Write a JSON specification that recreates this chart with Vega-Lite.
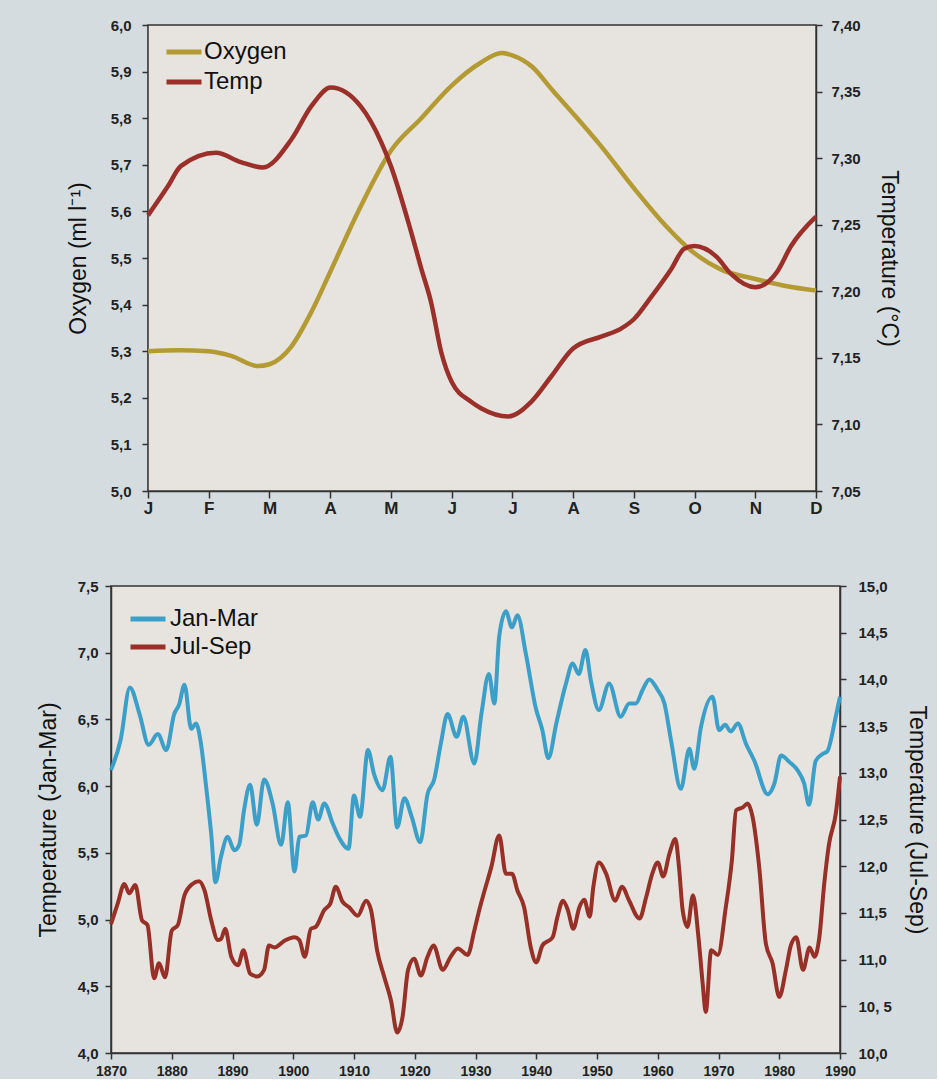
{
  "$schema": "https://vega.github.io/schema/vega-lite/v6.json",
  "background": "#d4dcdf",
  "padding": {"left": 36, "top": 18, "right": 8, "bottom": 0},
  "spacing": 62,
  "resolve": {"scale": {"color": "independent"}, "legend": {"color": "independent"}},
  "config": {
    "axis": {"domainColor": "#333", "tickColor": "#333", "domainWidth": 1.5, "tickWidth": 1.5, "tickSize": 6, "grid": false, "labelFlush": false,
      "labelFont": "Liberation Sans, Arial, sans-serif", "labelFontWeight": "bold", "labelColor": "#222",
      "titleFont": "Liberation Sans, Arial, sans-serif", "titleFontWeight": "normal", "titleFontSize": 23, "titleColor": "#111"},
    "legend": {"orient": "none", "labelFont": "Liberation Sans, Arial, sans-serif", "labelFontSize": 24, "labelColor": "#111",
      "symbolType": "stroke", "symbolSize": 1225, "symbolStrokeWidth": 5, "labelOffset": 2, "padding": 0, "title": null, "clipHeight": 28}
  },
  "datasets": {
    "top": [
      {"s": "Oxygen", "m": 0, "v": 5.30}, {"s": "Oxygen", "m": 0.5, "v": 5.302}, {"s": "Oxygen", "m": 1, "v": 5.30},
      {"s": "Oxygen", "m": 1.37, "v": 5.29}, {"s": "Oxygen", "m": 1.81, "v": 5.268}, {"s": "Oxygen", "m": 2, "v": 5.272},
      {"s": "Oxygen", "m": 2.36, "v": 5.31}, {"s": "Oxygen", "m": 2.69, "v": 5.384}, {"s": "Oxygen", "m": 3, "v": 5.47},
      {"s": "Oxygen", "m": 3.5, "v": 5.61}, {"s": "Oxygen", "m": 4, "v": 5.73}, {"s": "Oxygen", "m": 4.5, "v": 5.80},
      {"s": "Oxygen", "m": 5, "v": 5.87}, {"s": "Oxygen", "m": 5.49, "v": 5.92}, {"s": "Oxygen", "m": 5.82, "v": 5.94},
      {"s": "Oxygen", "m": 6, "v": 5.935}, {"s": "Oxygen", "m": 6.33, "v": 5.91}, {"s": "Oxygen", "m": 6.66, "v": 5.86},
      {"s": "Oxygen", "m": 7, "v": 5.81}, {"s": "Oxygen", "m": 7.46, "v": 5.74}, {"s": "Oxygen", "m": 8, "v": 5.65},
      {"s": "Oxygen", "m": 8.45, "v": 5.58}, {"s": "Oxygen", "m": 9, "v": 5.51}, {"s": "Oxygen", "m": 9.44, "v": 5.475},
      {"s": "Oxygen", "m": 10, "v": 5.455}, {"s": "Oxygen", "m": 10.5, "v": 5.44}, {"s": "Oxygen", "m": 11, "v": 5.43},
      {"s": "Temp", "m": 0, "v": 7.257}, {"s": "Temp", "m": 0.33, "v": 7.279}, {"s": "Temp", "m": 0.54, "v": 7.294},
      {"s": "Temp", "m": 1.12, "v": 7.304}, {"s": "Temp", "m": 1.53, "v": 7.297}, {"s": "Temp", "m": 1.89, "v": 7.293},
      {"s": "Temp", "m": 2.36, "v": 7.314}, {"s": "Temp", "m": 2.69, "v": 7.339}, {"s": "Temp", "m": 3.01, "v": 7.353},
      {"s": "Temp", "m": 3.5, "v": 7.339}, {"s": "Temp", "m": 3.84, "v": 7.312}, {"s": "Temp", "m": 4, "v": 7.294},
      {"s": "Temp", "m": 4.33, "v": 7.245}, {"s": "Temp", "m": 4.5, "v": 7.217}, {"s": "Temp", "m": 4.66, "v": 7.192},
      {"s": "Temp", "m": 4.83, "v": 7.154}, {"s": "Temp", "m": 5, "v": 7.132}, {"s": "Temp", "m": 5.32, "v": 7.117},
      {"s": "Temp", "m": 5.49, "v": 7.112}, {"s": "Temp", "m": 5.93, "v": 7.106}, {"s": "Temp", "m": 6.31, "v": 7.117},
      {"s": "Temp", "m": 6.64, "v": 7.136}, {"s": "Temp", "m": 7, "v": 7.157}, {"s": "Temp", "m": 7.46, "v": 7.166},
      {"s": "Temp", "m": 7.79, "v": 7.172}, {"s": "Temp", "m": 8, "v": 7.179}, {"s": "Temp", "m": 8.29, "v": 7.196},
      {"s": "Temp", "m": 8.62, "v": 7.217}, {"s": "Temp", "m": 8.83, "v": 7.232}, {"s": "Temp", "m": 9, "v": 7.234},
      {"s": "Temp", "m": 9.36, "v": 7.226}, {"s": "Temp", "m": 9.6, "v": 7.213}, {"s": "Temp", "m": 10, "v": 7.203},
      {"s": "Temp", "m": 10.35, "v": 7.214}, {"s": "Temp", "m": 10.59, "v": 7.234}, {"s": "Temp", "m": 11, "v": 7.256}
    ],
    "bottom": [
      {"s": "Jan-Mar", "year": 1870.0, "v": 6.12}, {"s": "Jan-Mar", "year": 1871.6, "v": 6.35}, {"s": "Jan-Mar", "year": 1873.1, "v": 6.74},
      {"s": "Jan-Mar", "year": 1874.7, "v": 6.54}, {"s": "Jan-Mar", "year": 1876.2, "v": 6.31}, {"s": "Jan-Mar", "year": 1877.7, "v": 6.39},
      {"s": "Jan-Mar", "year": 1879.1, "v": 6.27}, {"s": "Jan-Mar", "year": 1880.4, "v": 6.54}, {"s": "Jan-Mar", "year": 1881.2, "v": 6.61},
      {"s": "Jan-Mar", "year": 1882.1, "v": 6.76}, {"s": "Jan-Mar", "year": 1883.2, "v": 6.43}, {"s": "Jan-Mar", "year": 1884.0, "v": 6.47},
      {"s": "Jan-Mar", "year": 1884.8, "v": 6.32}, {"s": "Jan-Mar", "year": 1885.6, "v": 6.02}, {"s": "Jan-Mar", "year": 1886.5, "v": 5.64},
      {"s": "Jan-Mar", "year": 1887.2, "v": 5.28}, {"s": "Jan-Mar", "year": 1888.1, "v": 5.47}, {"s": "Jan-Mar", "year": 1889.2, "v": 5.62},
      {"s": "Jan-Mar", "year": 1890.3, "v": 5.52}, {"s": "Jan-Mar", "year": 1891.1, "v": 5.56}, {"s": "Jan-Mar", "year": 1891.9, "v": 5.82},
      {"s": "Jan-Mar", "year": 1892.9, "v": 6.01}, {"s": "Jan-Mar", "year": 1894.0, "v": 5.71}, {"s": "Jan-Mar", "year": 1895.2, "v": 6.05},
      {"s": "Jan-Mar", "year": 1896.6, "v": 5.87}, {"s": "Jan-Mar", "year": 1898.0, "v": 5.56}, {"s": "Jan-Mar", "year": 1899.1, "v": 5.88},
      {"s": "Jan-Mar", "year": 1900.2, "v": 5.36}, {"s": "Jan-Mar", "year": 1901.0, "v": 5.62}, {"s": "Jan-Mar", "year": 1902.1, "v": 5.63},
      {"s": "Jan-Mar", "year": 1903.2, "v": 5.88}, {"s": "Jan-Mar", "year": 1904.1, "v": 5.75}, {"s": "Jan-Mar", "year": 1905.1, "v": 5.87},
      {"s": "Jan-Mar", "year": 1906.5, "v": 5.72}, {"s": "Jan-Mar", "year": 1907.6, "v": 5.61}, {"s": "Jan-Mar", "year": 1909.1, "v": 5.53},
      {"s": "Jan-Mar", "year": 1910.0, "v": 5.93}, {"s": "Jan-Mar", "year": 1911.0, "v": 5.77}, {"s": "Jan-Mar", "year": 1912.3, "v": 6.27},
      {"s": "Jan-Mar", "year": 1913.3, "v": 6.09}, {"s": "Jan-Mar", "year": 1914.7, "v": 5.97}, {"s": "Jan-Mar", "year": 1916.0, "v": 6.22},
      {"s": "Jan-Mar", "year": 1917.1, "v": 5.69}, {"s": "Jan-Mar", "year": 1918.3, "v": 5.91}, {"s": "Jan-Mar", "year": 1919.5, "v": 5.77},
      {"s": "Jan-Mar", "year": 1920.9, "v": 5.58}, {"s": "Jan-Mar", "year": 1922.1, "v": 5.94}, {"s": "Jan-Mar", "year": 1923.2, "v": 6.05},
      {"s": "Jan-Mar", "year": 1924.3, "v": 6.32}, {"s": "Jan-Mar", "year": 1925.4, "v": 6.54}, {"s": "Jan-Mar", "year": 1926.9, "v": 6.37},
      {"s": "Jan-Mar", "year": 1928.0, "v": 6.52}, {"s": "Jan-Mar", "year": 1929.8, "v": 6.17}, {"s": "Jan-Mar", "year": 1931.0, "v": 6.55},
      {"s": "Jan-Mar", "year": 1932.2, "v": 6.84}, {"s": "Jan-Mar", "year": 1933.1, "v": 6.62}, {"s": "Jan-Mar", "year": 1933.9, "v": 7.12},
      {"s": "Jan-Mar", "year": 1935.0, "v": 7.31}, {"s": "Jan-Mar", "year": 1936.0, "v": 7.19}, {"s": "Jan-Mar", "year": 1936.9, "v": 7.28},
      {"s": "Jan-Mar", "year": 1938.3, "v": 6.99}, {"s": "Jan-Mar", "year": 1939.9, "v": 6.59}, {"s": "Jan-Mar", "year": 1941.0, "v": 6.42},
      {"s": "Jan-Mar", "year": 1942.0, "v": 6.21}, {"s": "Jan-Mar", "year": 1943.3, "v": 6.47}, {"s": "Jan-Mar", "year": 1944.9, "v": 6.77},
      {"s": "Jan-Mar", "year": 1946.0, "v": 6.92}, {"s": "Jan-Mar", "year": 1947.0, "v": 6.84}, {"s": "Jan-Mar", "year": 1948.1, "v": 7.02},
      {"s": "Jan-Mar", "year": 1949.0, "v": 6.79}, {"s": "Jan-Mar", "year": 1950.3, "v": 6.57}, {"s": "Jan-Mar", "year": 1952.0, "v": 6.77},
      {"s": "Jan-Mar", "year": 1953.9, "v": 6.52}, {"s": "Jan-Mar", "year": 1955.3, "v": 6.62}, {"s": "Jan-Mar", "year": 1956.4, "v": 6.62},
      {"s": "Jan-Mar", "year": 1957.5, "v": 6.72}, {"s": "Jan-Mar", "year": 1958.6, "v": 6.80}, {"s": "Jan-Mar", "year": 1960.0, "v": 6.72},
      {"s": "Jan-Mar", "year": 1961.1, "v": 6.62}, {"s": "Jan-Mar", "year": 1962.2, "v": 6.34}, {"s": "Jan-Mar", "year": 1963.8, "v": 5.98},
      {"s": "Jan-Mar", "year": 1965.2, "v": 6.28}, {"s": "Jan-Mar", "year": 1966.0, "v": 6.13}, {"s": "Jan-Mar", "year": 1967.1, "v": 6.44},
      {"s": "Jan-Mar", "year": 1969.0, "v": 6.67}, {"s": "Jan-Mar", "year": 1970.1, "v": 6.42}, {"s": "Jan-Mar", "year": 1971.1, "v": 6.46},
      {"s": "Jan-Mar", "year": 1972.0, "v": 6.41}, {"s": "Jan-Mar", "year": 1973.2, "v": 6.47}, {"s": "Jan-Mar", "year": 1974.5, "v": 6.32},
      {"s": "Jan-Mar", "year": 1975.9, "v": 6.19}, {"s": "Jan-Mar", "year": 1978.1, "v": 5.94}, {"s": "Jan-Mar", "year": 1979.2, "v": 6.02},
      {"s": "Jan-Mar", "year": 1980.3, "v": 6.23}, {"s": "Jan-Mar", "year": 1981.7, "v": 6.18}, {"s": "Jan-Mar", "year": 1983.0, "v": 6.12},
      {"s": "Jan-Mar", "year": 1984.1, "v": 6.02}, {"s": "Jan-Mar", "year": 1984.9, "v": 5.86}, {"s": "Jan-Mar", "year": 1986.0, "v": 6.19},
      {"s": "Jan-Mar", "year": 1987.1, "v": 6.24}, {"s": "Jan-Mar", "year": 1987.9, "v": 6.26}, {"s": "Jan-Mar", "year": 1989.3, "v": 6.52},
      {"s": "Jan-Mar", "year": 1990.0, "v": 6.67},
      {"s": "Jul-Sep", "year": 1870.0, "v": 11.38}, {"s": "Jul-Sep", "year": 1871.1, "v": 11.60}, {"s": "Jul-Sep", "year": 1872.2, "v": 11.81},
      {"s": "Jul-Sep", "year": 1873.0, "v": 11.71}, {"s": "Jul-Sep", "year": 1874.0, "v": 11.80}, {"s": "Jul-Sep", "year": 1875.1, "v": 11.42},
      {"s": "Jul-Sep", "year": 1876.0, "v": 11.37}, {"s": "Jul-Sep", "year": 1877.1, "v": 10.80}, {"s": "Jul-Sep", "year": 1877.9, "v": 10.96},
      {"s": "Jul-Sep", "year": 1878.9, "v": 10.81}, {"s": "Jul-Sep", "year": 1880.0, "v": 11.31}, {"s": "Jul-Sep", "year": 1881.0, "v": 11.37},
      {"s": "Jul-Sep", "year": 1882.1, "v": 11.69}, {"s": "Jul-Sep", "year": 1883.4, "v": 11.81}, {"s": "Jul-Sep", "year": 1884.5, "v": 11.84},
      {"s": "Jul-Sep", "year": 1885.4, "v": 11.74}, {"s": "Jul-Sep", "year": 1886.5, "v": 11.42}, {"s": "Jul-Sep", "year": 1887.6, "v": 11.21},
      {"s": "Jul-Sep", "year": 1888.1, "v": 11.22}, {"s": "Jul-Sep", "year": 1888.8, "v": 11.33}, {"s": "Jul-Sep", "year": 1889.8, "v": 11.03},
      {"s": "Jul-Sep", "year": 1890.9, "v": 10.94}, {"s": "Jul-Sep", "year": 1891.8, "v": 11.10}, {"s": "Jul-Sep", "year": 1892.9, "v": 10.85},
      {"s": "Jul-Sep", "year": 1894.1, "v": 10.82}, {"s": "Jul-Sep", "year": 1895.2, "v": 10.89}, {"s": "Jul-Sep", "year": 1896.0, "v": 11.15},
      {"s": "Jul-Sep", "year": 1896.9, "v": 11.13}, {"s": "Jul-Sep", "year": 1898.5, "v": 11.20}, {"s": "Jul-Sep", "year": 1900.2, "v": 11.24},
      {"s": "Jul-Sep", "year": 1901.0, "v": 11.21}, {"s": "Jul-Sep", "year": 1901.9, "v": 11.03}, {"s": "Jul-Sep", "year": 1902.9, "v": 11.33},
      {"s": "Jul-Sep", "year": 1903.7, "v": 11.35}, {"s": "Jul-Sep", "year": 1905.1, "v": 11.53}, {"s": "Jul-Sep", "year": 1906.1, "v": 11.60},
      {"s": "Jul-Sep", "year": 1907.0, "v": 11.78}, {"s": "Jul-Sep", "year": 1908.1, "v": 11.62}, {"s": "Jul-Sep", "year": 1909.2, "v": 11.56},
      {"s": "Jul-Sep", "year": 1910.6, "v": 11.47}, {"s": "Jul-Sep", "year": 1912.0, "v": 11.63}, {"s": "Jul-Sep", "year": 1912.8, "v": 11.53},
      {"s": "Jul-Sep", "year": 1913.8, "v": 11.10}, {"s": "Jul-Sep", "year": 1915.0, "v": 10.81}, {"s": "Jul-Sep", "year": 1916.1, "v": 10.56},
      {"s": "Jul-Sep", "year": 1917.1, "v": 10.22}, {"s": "Jul-Sep", "year": 1918.0, "v": 10.39}, {"s": "Jul-Sep", "year": 1918.9, "v": 10.89},
      {"s": "Jul-Sep", "year": 1919.9, "v": 11.01}, {"s": "Jul-Sep", "year": 1921.0, "v": 10.83}, {"s": "Jul-Sep", "year": 1922.1, "v": 11.03},
      {"s": "Jul-Sep", "year": 1923.1, "v": 11.15}, {"s": "Jul-Sep", "year": 1924.6, "v": 10.89}, {"s": "Jul-Sep", "year": 1925.9, "v": 11.03},
      {"s": "Jul-Sep", "year": 1927.1, "v": 11.12}, {"s": "Jul-Sep", "year": 1928.7, "v": 11.05}, {"s": "Jul-Sep", "year": 1929.8, "v": 11.31},
      {"s": "Jul-Sep", "year": 1930.5, "v": 11.50}, {"s": "Jul-Sep", "year": 1931.5, "v": 11.74}, {"s": "Jul-Sep", "year": 1932.6, "v": 11.99},
      {"s": "Jul-Sep", "year": 1933.9, "v": 12.33}, {"s": "Jul-Sep", "year": 1935.0, "v": 11.92}, {"s": "Jul-Sep", "year": 1936.0, "v": 11.92},
      {"s": "Jul-Sep", "year": 1936.9, "v": 11.74}, {"s": "Jul-Sep", "year": 1938.0, "v": 11.56}, {"s": "Jul-Sep", "year": 1939.1, "v": 11.13},
      {"s": "Jul-Sep", "year": 1940.0, "v": 10.97}, {"s": "Jul-Sep", "year": 1941.0, "v": 11.15}, {"s": "Jul-Sep", "year": 1942.7, "v": 11.24},
      {"s": "Jul-Sep", "year": 1943.5, "v": 11.46}, {"s": "Jul-Sep", "year": 1944.4, "v": 11.63}, {"s": "Jul-Sep", "year": 1945.2, "v": 11.53},
      {"s": "Jul-Sep", "year": 1946.1, "v": 11.33}, {"s": "Jul-Sep", "year": 1947.1, "v": 11.56}, {"s": "Jul-Sep", "year": 1947.9, "v": 11.64},
      {"s": "Jul-Sep", "year": 1948.8, "v": 11.46}, {"s": "Jul-Sep", "year": 1949.4, "v": 11.78}, {"s": "Jul-Sep", "year": 1950.3, "v": 12.04},
      {"s": "Jul-Sep", "year": 1951.5, "v": 11.92}, {"s": "Jul-Sep", "year": 1953.0, "v": 11.63}, {"s": "Jul-Sep", "year": 1954.1, "v": 11.78},
      {"s": "Jul-Sep", "year": 1955.3, "v": 11.63}, {"s": "Jul-Sep", "year": 1957.0, "v": 11.44}, {"s": "Jul-Sep", "year": 1958.1, "v": 11.67},
      {"s": "Jul-Sep", "year": 1959.1, "v": 11.92}, {"s": "Jul-Sep", "year": 1960.0, "v": 12.04}, {"s": "Jul-Sep", "year": 1960.9, "v": 11.89},
      {"s": "Jul-Sep", "year": 1961.9, "v": 12.13}, {"s": "Jul-Sep", "year": 1962.9, "v": 12.29}, {"s": "Jul-Sep", "year": 1963.5, "v": 11.99},
      {"s": "Jul-Sep", "year": 1964.1, "v": 11.53}, {"s": "Jul-Sep", "year": 1964.9, "v": 11.35}, {"s": "Jul-Sep", "year": 1965.8, "v": 11.69},
      {"s": "Jul-Sep", "year": 1966.7, "v": 11.24}, {"s": "Jul-Sep", "year": 1967.4, "v": 10.74}, {"s": "Jul-Sep", "year": 1967.9, "v": 10.44},
      {"s": "Jul-Sep", "year": 1968.8, "v": 11.10}, {"s": "Jul-Sep", "year": 1969.9, "v": 11.05}, {"s": "Jul-Sep", "year": 1971.2, "v": 11.56},
      {"s": "Jul-Sep", "year": 1972.2, "v": 12.06}, {"s": "Jul-Sep", "year": 1972.9, "v": 12.60}, {"s": "Jul-Sep", "year": 1974.0, "v": 12.63},
      {"s": "Jul-Sep", "year": 1974.8, "v": 12.67}, {"s": "Jul-Sep", "year": 1975.6, "v": 12.53}, {"s": "Jul-Sep", "year": 1976.7, "v": 11.99},
      {"s": "Jul-Sep", "year": 1977.8, "v": 11.17}, {"s": "Jul-Sep", "year": 1978.9, "v": 10.96}, {"s": "Jul-Sep", "year": 1980.0, "v": 10.60},
      {"s": "Jul-Sep", "year": 1981.1, "v": 10.89}, {"s": "Jul-Sep", "year": 1981.9, "v": 11.15}, {"s": "Jul-Sep", "year": 1982.8, "v": 11.24},
      {"s": "Jul-Sep", "year": 1983.9, "v": 10.89}, {"s": "Jul-Sep", "year": 1985.0, "v": 11.13}, {"s": "Jul-Sep", "year": 1985.8, "v": 11.03},
      {"s": "Jul-Sep", "year": 1986.6, "v": 11.24}, {"s": "Jul-Sep", "year": 1987.4, "v": 11.81}, {"s": "Jul-Sep", "year": 1988.2, "v": 12.24},
      {"s": "Jul-Sep", "year": 1989.3, "v": 12.56}, {"s": "Jul-Sep", "year": 1990.0, "v": 12.96}
    ]
  },
  "vconcat": [
    {
      "width": 705,
      "height": 466,
      "view": {"stroke": null, "fill": null},
      "layer": [
        {
          "data": {"values": [{"box": 1}]},
          "mark": {"type": "rect", "fill": "#e7e4e0", "stroke": "#333", "strokeWidth": 1.5},
          "encoding": {
            "x": {"datum": 0, "type": "quantitative", "scale": {"domain": [0, 11], "range": [37, 705], "nice": false, "zero": false},
              "axis": {"values": [0,1,2,3,4,5,6,7,8,9,10,11], "labelExpr": "['J','F','M','A','M','J','J','A','S','O','N','D'][datum.value]", "title": null, "labelFontSize": 17, "labelPadding": 2, "tickSize": 7}},
            "x2": {"datum": 11},
            "y": {"datum": 0, "type": "quantitative", "scale": {"domain": [0, 1], "nice": false, "zero": false}, "axis": null},
            "y2": {"datum": 1}
          }
        },
        {
          "data": {"name": "top"},
          "transform": [{"filter": "datum.s == 'Oxygen'"}],
          "mark": {"type": "line", "interpolate": "monotone", "strokeWidth": 4.5},
          "encoding": {
            "x": {"field": "m", "type": "quantitative", "scale": {"domain": [0, 11], "range": [37, 705], "nice": false, "zero": false},
              "axis": {"values": [0,1,2,3,4,5,6,7,8,9,10,11], "labelExpr": "['J','F','M','A','M','J','J','A','S','O','N','D'][datum.value]", "title": null, "labelFontSize": 17, "labelPadding": 2, "tickSize": 7}},
            "y": {"field": "v", "type": "quantitative", "scale": {"domain": [5.0, 6.0], "nice": false, "zero": false},
              "axis": {"orient": "left", "offset": -37, "values": [5.0,5.1,5.2,5.3,5.4,5.5,5.6,5.7,5.8,5.9,6.0], "labelExpr": "replace(format(datum.value, '.1f'), '.', ',')", "labelFontSize": 15, "labelPadding": 11, "title": "Oxygen (ml l⁻¹)", "titlePadding": 20}},
            "color": {"field": "s", "type": "nominal", "scale": {"domain": ["Oxygen", "Temp"], "range": ["#b49a32", "#9b302a"]},
              "legend": {"legendX": 53, "legendY": 13, "rowPadding": 2, "labelOffset": 0}}
          }
        },
        {
          "data": {"name": "top"},
          "transform": [{"filter": "datum.s == 'Temp'"}],
          "mark": {"type": "line", "interpolate": "monotone", "strokeWidth": 4.5},
          "encoding": {
            "x": {"field": "m", "type": "quantitative", "scale": {"domain": [0, 11], "range": [37, 705], "nice": false, "zero": false},
              "axis": {"values": [0,1,2,3,4,5,6,7,8,9,10,11], "labelExpr": "['J','F','M','A','M','J','J','A','S','O','N','D'][datum.value]", "title": null, "labelFontSize": 17, "labelPadding": 2, "tickSize": 7}},
            "y": {"field": "v", "type": "quantitative", "scale": {"domain": [7.05, 7.40], "nice": false, "zero": false},
              "axis": {"orient": "right", "values": [7.05,7.10,7.15,7.20,7.25,7.30,7.35,7.40], "labelExpr": "replace(format(datum.value, '.2f'), '.', ',')", "labelFontSize": 15, "labelPadding": 9, "title": "Temperature (°C)", "titlePadding": 16}},
            "color": {"field": "s", "type": "nominal", "scale": {"domain": ["Oxygen", "Temp"], "range": ["#b49a32", "#9b302a"]},
              "legend": {"legendX": 53, "legendY": 13, "rowPadding": 2, "labelOffset": 0}}
          }
        }
      ],
      "resolve": {"scale": {"y": "independent"}, "axis": {"y": "independent"}}
    },
    {
      "width": 729,
      "height": 467,
      "view": {"fill": "#e7e4e0", "stroke": "#333", "strokeWidth": 1.5},
      "data": {"name": "bottom"},
      "layer": [
        {
          "transform": [{"filter": "datum.s == 'Jan-Mar'"}],
          "mark": {"type": "line", "interpolate": "monotone", "strokeWidth": 4},
          "encoding": {
            "x": {"field": "year", "type": "quantitative", "scale": {"domain": [1870, 1990], "nice": false, "zero": false},
              "axis": {"values": [1870,1880,1890,1900,1910,1920,1930,1940,1950,1960,1970,1980,1990], "labelExpr": "format(datum.value, 'd')", "title": null, "labelFontSize": 14, "labelPadding": 5}},
            "y": {"field": "v", "type": "quantitative", "scale": {"domain": [4.0, 7.5], "nice": false, "zero": false},
              "axis": {"orient": "left", "values": [4.0,4.5,5.0,5.5,6.0,6.5,7.0,7.5], "labelExpr": "replace(format(datum.value, '.1f'), '.', ',')", "labelFontSize": 15, "labelPadding": 7, "title": "Temperature (Jan-Mar)", "titlePadding": 17}},
            "color": {"field": "s", "type": "nominal", "scale": {"domain": ["Jan-Mar", "Jul-Sep"], "range": ["#3b9fc8", "#973127"]},
              "legend": {"legendX": 17, "legendY": 19, "rowPadding": 0}}
          }
        },
        {
          "transform": [{"filter": "datum.s == 'Jul-Sep'"}],
          "mark": {"type": "line", "interpolate": "monotone", "strokeWidth": 4},
          "encoding": {
            "x": {"field": "year", "type": "quantitative", "scale": {"domain": [1870, 1990], "nice": false, "zero": false},
              "axis": {"values": [1870,1880,1890,1900,1910,1920,1930,1940,1950,1960,1970,1980,1990], "labelExpr": "format(datum.value, 'd')", "title": null, "labelFontSize": 14, "labelPadding": 5}},
            "y": {"field": "v", "type": "quantitative", "scale": {"domain": [10, 15], "nice": false, "zero": false},
              "axis": {"orient": "right", "values": [10,10.5,11,11.5,12,12.5,13,13.5,14,14.5,15], "labelExpr": "format(datum.value, '.1f') == '10.5' ? '10, 5' : replace(format(datum.value, '.1f'), '.', ',')", "labelFontSize": 15, "labelPadding": 12, "title": "Temperature (Jul-Sep)", "titlePadding": 13}},
            "color": {"field": "s", "type": "nominal", "scale": {"domain": ["Jan-Mar", "Jul-Sep"], "range": ["#3b9fc8", "#973127"]},
              "legend": {"legendX": 17, "legendY": 19, "rowPadding": 0}}
          }
        }
      ],
      "resolve": {"scale": {"y": "independent"}, "axis": {"y": "independent"}}
    }
  ]
}
